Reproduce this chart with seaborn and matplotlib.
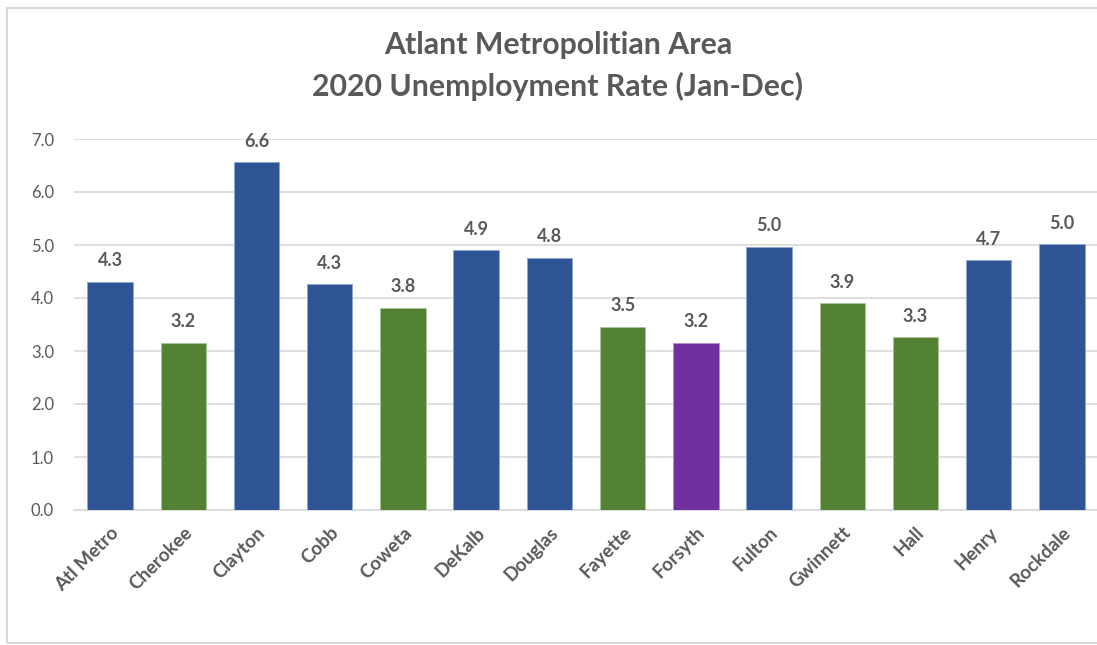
import seaborn as sns
import pandas as pd
import matplotlib.pyplot as plt
from matplotlib.patches import Rectangle

#-----------------------------------------------------------------------------------------------------------------------
"""Data"""
counties = ['Atl Metro', 'Cherokee', 'Clayton', 'Cobb', 'Coweta', 'DeKalb', 'Douglas',
            'Fayette', 'Forsyth', 'Fulton', 'Gwinnett', 'Hall', 'Henry', 'Rockdale']
rates = [4.31, 3.16, 6.56, 4.26, 3.81, 4.90, 4.76, 3.46, 3.16, 4.96, 3.90, 3.26, 4.71, 5.01]
groups = ['blue', 'green', 'blue', 'blue', 'green', 'blue', 'blue',
          'green', 'purple', 'blue', 'green', 'green', 'blue', 'blue']
yticks = [0, 1, 2, 3, 4, 5, 6, 7]

df = pd.DataFrame({'county': counties, 'rate': rates, 'group': groups})

#-----------------------------------------------------------------------------------------------------------------------
"""Style"""
MyFont = 'Lato'
txt = '#595959'
group_colors = {'blue': '#2F5597', 'green': '#548235', 'purple': '#7030A0'}
edge_colors = {'blue': '#8FA6D4', 'green': '#A9C79A', 'purple': '#B58FD3'}

sns.set_style('white')
plt.rcParams['font.family'] = [MyFont, 'DejaVu Sans']

fig = plt.figure(figsize=(10.97, 6.45), dpi=100)
ax1 = fig.add_axes([73.5 / 1097, 1 - 510 / 645, (1098.5 - 73.5) / 1097, (510 - 139) / 645])

#-----------------------------------------------------------------------------------------------------------------------
"""Plotting"""
sns.barplot(data=df, x='county', y='rate', hue='group', palette=group_colors, dodge=False,
            saturation=1, width=0.62, legend=False, linewidth=0.7, ax=ax1, zorder=3)

# thin lighter outline like the original
for bar, g in zip(sorted(ax1.patches, key=lambda p: p.get_x()), df['group']):
    bar.set_edgecolor(edge_colors[g])

# value labels
for i, r in enumerate(rates):
    ax1.text(i, r + 0.40, f'{r:.1f}', ha='center', va='center', fontsize=13,
             fontweight='bold', color=txt)

#-----------------------------------------------------------------------------------------------------------------------
"""Axes"""
ax1.set_ylim(0, 7)
ax1.set_xlim(-0.5, len(counties) - 0.5)
ax1.set_yticks(yticks)
ax1.set_yticklabels([f'{t:.1f}' for t in yticks], fontsize=12, color=txt)
ax1.set_xticks(range(len(counties)))
ax1.set_xticklabels(counties, rotation=45, ha='right', rotation_mode='anchor',
                    fontsize=13.5, fontweight='bold', color=txt)
ax1.tick_params(axis='y', length=0, pad=14)
ax1.tick_params(axis='x', length=0, pad=10)
ax1.set_xlabel('')
ax1.set_ylabel('')

ax1.grid(axis='y', color='#D9D9D9', linewidth=1.2, zorder=0)
for s in ['top', 'right', 'left']:
    ax1.spines[s].set_visible(False)
ax1.spines['bottom'].set_color('#D9D9D9')
ax1.spines['bottom'].set_linewidth(1.2)
ax1.set_axisbelow(True)

#-----------------------------------------------------------------------------------------------------------------------
"""Title and border"""
fig.text(558 / 1097, 1 - 45 / 645, 'Atlant Metropolitian Area', ha='center', va='center',
         fontsize=21.8, fontweight='bold', color=txt)
fig.text(558 / 1097, 1 - 86 / 645, '2020 Unemployment Rate (Jan-Dec)', ha='center', va='center',
         fontsize=21.8, fontweight='bold', color=txt)

fig.patches.append(Rectangle((7 / 1097, 2 / 645), 1.2, 635 / 645, transform=fig.transFigure,
                             fill=False, edgecolor='#D9D9D9', linewidth=1.5))

fig.savefig('out.png', dpi=100, facecolor='white')
